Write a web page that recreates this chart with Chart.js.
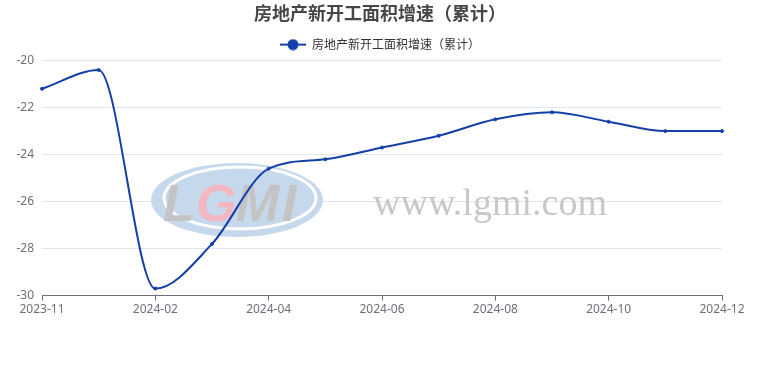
<!DOCTYPE html>
<html>
<head>
<meta charset="utf-8">
<script src="https://cdn.jsdelivr.net/npm/chart.js@4/dist/chart.umd.min.js"></script>
<style>
  html, body { margin: 0; padding: 0; background: #fff; }
  #wrap { width: 760px; height: 370px; }
</style>
</head>
<body>
<div id="wrap"><canvas id="chart" width="760" height="370"></canvas></div>
<script>
const months = ['2023-11', '2023-12', '2024-02', '2024-03', '2024-04', '2024-05', '2024-06',
                '2024-07', '2024-08', '2024-09', '2024-10', '2024-11', '2024-12'];
const growth = [-21.2, -20.4, -29.7, -27.8, -24.6, -24.2, -23.7, -23.2, -22.5, -22.2, -22.6, -23.0, -23.0];
const yTicks = [-30, -28, -26, -24, -22, -20];

const lineColor = '#1340a8';
const axisColor = '#6E7079';

// legend icon: short line with a dot on it
function legendIcon() {
    const c = document.createElement('canvas');
    c.width = 26; c.height = 12;
    const g = c.getContext('2d');
    g.strokeStyle = lineColor;
    g.lineWidth = 2;
    g.beginPath(); g.moveTo(0, 6); g.lineTo(26, 6); g.stroke();
    g.fillStyle = lineColor;
    g.beginPath(); g.arc(13, 6, 5.5, 0, Math.PI * 2); g.fill();
    return c;
}

const watermark = {
    id: 'watermark',
    beforeDatasetsDraw(chart) {
        const ctx = chart.ctx;
        ctx.save();
        // logo ellipse
        ctx.fillStyle = '#c6d8ec';
        ctx.beginPath(); ctx.ellipse(237, 200, 86, 37, 0, 0, Math.PI * 2); ctx.fill();
        ctx.strokeStyle = '#ffffff';
        ctx.lineWidth = 3;
        ctx.beginPath(); ctx.ellipse(240, 198, 76, 31, 0, 0, Math.PI * 2); ctx.stroke();
        ctx.font = 'italic bold 52px "Liberation Sans", Arial, sans-serif';
        ctx.textBaseline = 'alphabetic';
        const letters = [['L', 163, '#c4c4c4'], ['G', 196, '#f4b6c0'], ['M', 236, '#c4c4c4'], ['I', 282, '#c4c4c4']];
        letters.forEach(l => { ctx.fillStyle = l[2]; ctx.fillText(l[0], l[1], 221); });
        ctx.font = '38px "Liberation Serif", "DejaVu Serif", serif';
        ctx.fillStyle = '#c8c8c8';
        ctx.fillText('www.lgmi.com', 373, 215);
        ctx.restore();
    }
};

new Chart(document.getElementById('chart'), {
    type: 'line',
    data: {
        labels: months,
        datasets: [{
            label: '房地产新开工面积增速（累计）',
            data: growth,
            borderColor: lineColor,
            backgroundColor: lineColor,
            borderWidth: 2,
            pointRadius: 1.5,
            pointBorderWidth: 1,
            pointHoverRadius: 3,
            cubicInterpolationMode: 'monotone'
        }]
    },
    options: {
        responsive: false,
        animation: false,
        layout: { padding: { left: 0, right: 0, top: 0, bottom: 51 } },
        plugins: {
            title: {
                display: true,
                text: '房地产新开工面积增速（累计）',
                color: '#464646',
                font: { size: 18, weight: 'bold', family: '"Noto Sans CJK SC", sans-serif' },
                padding: { top: 2, bottom: 7 }
            },
            legend: {
                labels: {
                    color: '#333',
                    font: { size: 12, family: '"Noto Sans CJK SC", sans-serif' },
                    usePointStyle: true,
                    pointStyleWidth: 26,
                    padding: 8,
                    generateLabels(chart) {
                        return chart.data.datasets.map((ds, i) => ({
                            text: ds.label,
                            pointStyle: legendIcon(),
                            fontColor: '#333',
                            datasetIndex: i,
                            hidden: false,
                            lineWidth: 0
                        }));
                    }
                }
            },
            tooltip: { enabled: false }
        },
        scales: {
            x: {
                ticks: {
                    autoSkip: false,
                    maxRotation: 0,
                    color: axisColor,
                    font: { size: 12, family: '"Noto Sans", sans-serif' },
                    padding: 2,
                    callback: (v, i) => (i % 2 === 0 ? months[i] : '')
                },
                grid: {
                    drawOnChartArea: false,
                    tickLength: 5,
                    color: c => (c.index % 2 === 0 ? axisColor : 'rgba(0,0,0,0)')
                },
                border: { color: axisColor, width: 1 }
            },
            y: {
                min: -30,
                max: -20,
                afterBuildTicks: s => { s.ticks = yTicks.map(v => ({ value: v })); },
                afterFit: s => { s.width = 42; },
                ticks: {
                    color: axisColor,
                    font: { size: 12, family: '"Noto Sans", sans-serif' },
                    padding: 8
                },
                grid: { color: '#E0E6F1', drawTicks: false },
                border: { display: false }
            },
            // empty right-hand strip so title and legend stay centred on the canvas
            yRight: {
                position: 'right',
                min: -30,
                max: -20,
                afterFit: s => { s.width = 38; },
                ticks: { display: false },
                grid: { display: false },
                border: { display: false }
            }
        }
    },
    plugins: [watermark]
});
</script>
</body>
</html>
